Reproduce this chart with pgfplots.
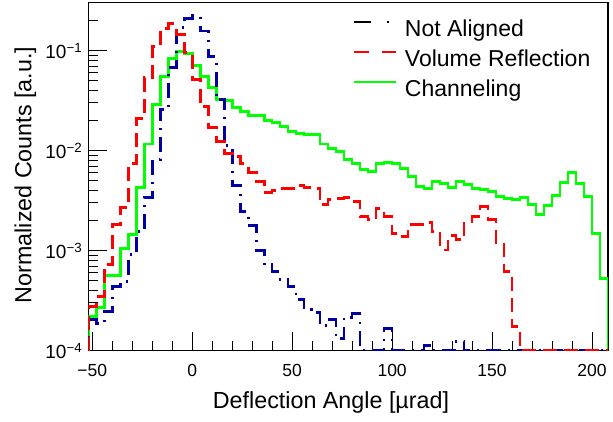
\documentclass[border=0pt]{standalone}
\usepackage{fontspec}
\setmainfont{Liberation Sans}
\usepackage{pgfplots}
\pgfplotsset{compat=1.18}
\definecolor{navyroot}{RGB}{0,0,160}
\definecolor{greenroot}{RGB}{0,255,0}
\definecolor{redroot}{RGB}{255,0,0}
\tikzset{
  dashdotroot/.style={dash pattern=on 15pt off 7pt on 2pt off 7pt},
  dashroot/.style={dash pattern=on 14pt off 7pt},
}

\begin{document}
\begin{tikzpicture}
\useasboundingbox (-88.3pt,-70.3pt) rectangle (524.7pt,350.7pt);
\begin{axis}[
    name=ax,
    at={(0pt,0pt)}, anchor=south west,
    scale only axis,
    width=519.7pt, height=348pt,
    ymode=log,
    xmin=-52, xmax=208,
    ymin=1e-4, ymax=0.302,
    axis line style={line width=1.3pt},
    tick align=inside,
    xtick pos=bottom, ytick pos=left,
    xtick={-50,0,50,100,150,200},
    xticklabels={−50,0,50,100,150,200},
    minor x tick num=4,
    ytick={1e-4,1e-3,1e-2,1e-1},
    yticklabels={10\textsuperscript{−4},10\textsuperscript{−3},10\textsuperscript{−2},10\textsuperscript{−1}},
    extra y ticks={0.2,0.3},
    extra y tick labels={},
    extra y tick style={major tick length=9.5pt},
    major tick length=19pt,
    minor tick length=9.5pt,
    every tick/.style={black, line width=1pt},
    xticklabel style={font=\fontsize{17.5}{20}\selectfont, yshift=-10pt},
    yticklabel style={font=\fontsize{19}{22}\selectfont, xshift=-2.6pt},
    every axis x label/.style={at={(axis description cs:0.467,0)}, anchor=base, yshift=-57.3pt},
    every axis y label/.style={at={(axis description cs:-0.1097,0.505)}, rotate=90, anchor=base},
    label style={font=\fontsize{23.3}{26}\selectfont},
    xlabel={Deflection Angle [µrad]},
    ylabel={Normalized Counts [a.u.]},
    legend style={draw=none, fill=none, at={(axis description cs:0.5093,1)}, anchor=north west,
        yshift=-16.5pt, font=\fontsize{23}{26}\selectfont, inner sep=0pt, outer sep=0pt,
        row sep=8pt, nodes={inner sep=0pt, text height=17pt, text depth=5pt}},
    legend cell align=left,
    /tikz/every odd column/.style={column sep=8pt},
    legend image code/.code={\draw[#1] (0pt,8pt) -- (42pt,8pt);},
    const plot mark left,
    every axis plot/.append style={line width=2.6pt, line join=miter},
]

% Channeling
\addplot[greenroot, forget plot] coordinates {
(-52,1e-4) (-52,2.19e-4) (-48,2.69e-4) (-44,5.62e-4) (-40,5.62e-4) (-36,1.05e-3)
(-32,1.45e-3) (-28,4.27e-3) (-24,1.17e-2) (-20,2.88e-2) (-16,5.50e-2)
(-12,8.32e-2) (-8,9.77e-2) (-4,9.33e-2) (0,7.08e-2) (4,5.50e-2)
(8,4.27e-2) (12,3.24e-2) (16,3.16e-2) (20,2.69e-2) (24,2.45e-2)
(28,2.24e-2) (32,2.24e-2) (36,2.00e-2) (40,1.91e-2) (44,1.74e-2)
(48,1.55e-2) (52,1.48e-2) (56,1.45e-2) (60,1.45e-2) (64,1.17e-2)
(68,1.05e-2) (72,9.77e-3) (76,8.13e-3) (80,7.41e-3) (84,6.46e-3)
(88,6.17e-3) (92,7.41e-3) (96,7.59e-3) (100,7.41e-3) (104,6.61e-3)
(108,5.50e-3) (112,4.37e-3) (116,4.17e-3) (120,4.90e-3) (124,4.68e-3)
(128,4.27e-3) (132,4.90e-3) (136,4.57e-3) (140,4.17e-3) (144,4.07e-3)
(148,3.89e-3) (152,3.47e-3) (156,3.31e-3) (160,3.24e-3) (164,3.39e-3)
(168,2.88e-3) (172,2.29e-3) (176,2.82e-3) (180,3.55e-3) (184,4.79e-3)
(188,6.03e-3) (192,4.68e-3) (196,3.47e-3) (200,1.48e-3) (204,5.25e-4)
(208,1e-4)
};

% Not Aligned
\addplot[navyroot, dashdotroot, forget plot] coordinates {
(-52,1e-4) (-52,2.04e-4) (-48,1.86e-4) (-44,2.45e-4) (-40,4.37e-4) (-36,4.90e-4)
(-32,9.12e-4) (-28,1.55e-3) (-24,3.39e-3) (-20,8.13e-3) (-16,2.57e-2)
(-12,6.76e-2) (-8,0.170) (-4,0.209) (0,0.224) (4,0.158)
(8,8.71e-2) (12,3.24e-2) (16,1.12e-2) (20,4.47e-3) (24,2.45e-3)
(28,1.78e-3) (32,1.00e-3) (36,7.24e-4) (40,6.17e-4) (44,5.13e-4)
(48,4.37e-4) (52,3.24e-4) (56,2.57e-4) (60,2.40e-4) (64,1.78e-4)
(68,2.04e-4) (72,1.32e-4) (76,2.14e-4) (80,2.34e-4) (84,1e-4)
(88,1e-4) (92,1e-4) (96,1.66e-4) (100,1e-4) (104,1e-4)
(108,1e-4) (112,1e-4) (116,1.12e-4) (120,1e-4) (124,1e-4)
(128,1e-4) (132,1.23e-4) (136,1e-4) (140,1e-4) (144,1e-4)
(148,1e-4) (152,1e-4) (156,1e-4) (160,1e-4) (164,1e-4)
(168,1e-4) (172,1e-4) (176,1e-4) (180,1e-4) (184,1e-4)
(188,1e-4) (192,1e-4) (196,1e-4) (200,1e-4) (204,1e-4)
(208,1e-4)
};

% Volume Reflection
\addplot[redroot, dashroot, forget plot] coordinates {
(-52,1e-4) (-52,2.75e-4) (-48,3.47e-4) (-44,7.24e-4) (-40,1.82e-3) (-36,2.69e-3)
(-32,7.41e-3) (-28,2.09e-2) (-24,5.37e-2) (-20,0.110) (-16,0.166)
(-12,0.186) (-8,0.145) (-4,9.55e-2) (0,5.13e-2) (4,2.75e-2)
(8,1.70e-2) (12,1.23e-2) (16,9.33e-3) (20,8.71e-3) (24,7.41e-3)
(28,6.03e-3) (32,4.90e-3) (36,3.80e-3) (40,3.98e-3) (44,4.17e-3)
(48,4.17e-3) (52,4.47e-3) (56,4.27e-3) (60,4.17e-3) (64,2.88e-3)
(68,3.24e-3) (72,3.31e-3) (76,3.39e-3) (80,3.09e-3) (84,2.19e-3)
(88,2.04e-3) (92,2.63e-3) (96,2.19e-3) (100,1.48e-3) (104,1.38e-3)
(108,1.82e-3) (112,1.82e-3) (116,1.91e-3) (120,1.55e-3) (124,1.02e-3)
(128,1.41e-3) (132,1.29e-3) (136,1.95e-3) (140,2.19e-3) (144,2.75e-3)
(148,2.04e-3) (152,1.17e-3) (156,6.17e-4) (160,1.74e-4) (164,1e-4)
(168,1e-4) (172,1e-4) (176,1e-4) (180,1e-4) (184,1e-4)
(188,1e-4) (192,1e-4) (196,1e-4) (200,1e-4) (204,1e-4)
(208,1e-4)
};

\addlegendimage{black, dash pattern=on 17pt off 16pt on 2pt off 16pt, line width=2pt}
\addlegendentry{Not Aligned}
\addlegendimage{redroot, dash pattern=on 15pt off 13pt, line width=2pt}
\addlegendentry{Volume Reflection}
\addlegendimage{greenroot, line width=2pt}
\addlegendentry{Channeling}
\end{axis}
\end{tikzpicture}
\end{document}
